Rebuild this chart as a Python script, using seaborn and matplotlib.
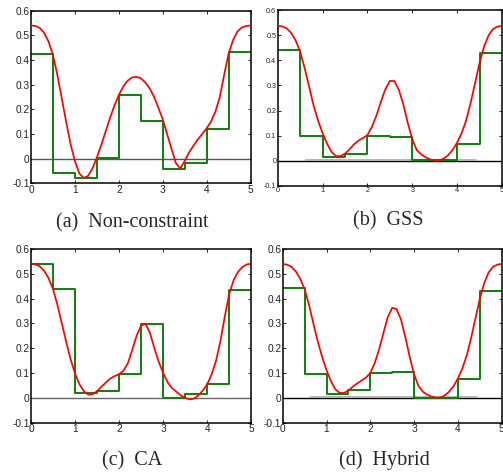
import numpy as np
import pandas as pd
import matplotlib
matplotlib.use("Agg")
import matplotlib.pyplot as plt
import seaborn as sns

# ---------------- data ----------------
step_edges = [0, 0.5, 1.0, 1.5, 2.0, 2.5, 3.0, 3.5, 4.0, 4.5, 5.0]

steps_a = [0.424, -0.058, -0.080, 0.004, 0.258, 0.154, -0.042, -0.016, 0.122, 0.432]
steps_b = [0.441, 0.098, 0.013, 0.028, 0.100, 0.095, 0.001, 0.001, 0.068, 0.430]
steps_c = [0.539, 0.438, 0.020, 0.027, 0.095, 0.298, 0.000, 0.016, 0.054, 0.434]
steps_d = [0.441, 0.097, 0.016, 0.031, 0.099, 0.105, 0.000, 0.000, 0.078, 0.432]

x_curve = np.round(np.arange(0, 5.01, 0.1), 1)

curve_a = [0.540, 0.538, 0.530, 0.510, 0.475, 0.420, 0.340, 0.245, 0.150, 0.060,
           -0.010, -0.060, -0.078, -0.070, -0.040, 0.005, 0.055, 0.110, 0.165, 0.215,
           0.258, 0.292, 0.316, 0.329, 0.332, 0.326, 0.310, 0.286, 0.252, 0.207,
           0.160, 0.100, 0.040, -0.018, -0.040, -0.010, 0.025, 0.052, 0.078, 0.100,
           0.123, 0.150, 0.190, 0.250, 0.340, 0.425, 0.480, 0.515, 0.532, 0.538, 0.540]

curve_b = [0.538, 0.536, 0.528, 0.510, 0.480, 0.435, 0.370, 0.295, 0.220, 0.160,
           0.110, 0.068, 0.035, 0.018, 0.018, 0.028, 0.045, 0.065, 0.080, 0.090,
           0.102, 0.135, 0.180, 0.235, 0.285, 0.318, 0.318, 0.283, 0.225, 0.150,
           0.085, 0.042, 0.025, 0.013, 0.005, 0.001, 0.001, 0.008, 0.022, 0.043,
           0.072, 0.110, 0.160, 0.230, 0.310, 0.390, 0.455, 0.500, 0.525, 0.535, 0.538]

curve_c = [0.541, 0.538, 0.530, 0.512, 0.482, 0.438, 0.375, 0.300, 0.225, 0.155,
           0.098, 0.055, 0.027, 0.013, 0.015, 0.027, 0.045, 0.062, 0.078, 0.088,
           0.095, 0.110, 0.140, 0.195, 0.252, 0.292, 0.298, 0.262, 0.200, 0.145,
           0.100, 0.063, 0.040, 0.025, 0.010, 0.000, -0.006, -0.003, 0.010, 0.030,
           0.055, 0.095, 0.150, 0.230, 0.330, 0.420, 0.475, 0.508, 0.528, 0.538, 0.541]

curve_d = [0.540, 0.537, 0.528, 0.510, 0.480, 0.438, 0.375, 0.300, 0.228, 0.165,
           0.112, 0.068, 0.035, 0.020, 0.020, 0.030, 0.045, 0.058, 0.070, 0.082,
           0.100, 0.140, 0.195, 0.262, 0.326, 0.363, 0.358, 0.316, 0.245, 0.165,
           0.095, 0.048, 0.025, 0.013, 0.005, 0.001, 0.002, 0.010, 0.025, 0.047,
           0.078, 0.118, 0.170, 0.240, 0.320, 0.400, 0.462, 0.505, 0.528, 0.537, 0.540]

# light grey baseline segment seen in (b) and (d)
grey_seg_x = [0.63, 4.43]
grey_seg_y = [0.003, 0.003]

captions = ["(a)  Non-constraint", "(b)  GSS", "(c)  CA", "(d)  Hybrid"]
x_ticks = [0, 1, 2, 3, 4, 5]
y_ticks = [-0.1, 0, 0.1, 0.2, 0.3, 0.4, 0.5, 0.6]
y_ticklabels = ["-0.1", "0", "0.1", "0.2", "0.3", "0.4", "0.5", "0.6"]

# ---------------- figure ----------------
sns.set_style("ticks")
plt.rcParams["font.family"] = ["Liberation Sans", "DejaVu Sans"]

W, H = 503, 475
fig = plt.figure(figsize=(W / 100, H / 100), dpi=100)

def ax_rect(l, t, r, b):
    return [l / W, 1 - b / H, (r - l) / W, (b - t) / H]

panels = [
    dict(rect=ax_rect(31, 10.7, 250.5, 183.3), steps=steps_a, curve=curve_a,
         tick_fs=7.3, zero_color="#555555", grey=False, cap_xy=(132, 227)),
    dict(rect=ax_rect(277.7, 10.3, 502, 185.7), steps=steps_b, curve=curve_b,
         tick_fs=5.2, zero_color="#000000", grey=True, cap_xy=(388, 225)),
    dict(rect=ax_rect(31, 249, 251.3, 422.7), steps=steps_c, curve=curve_c,
         tick_fs=7.3, zero_color="#666666", grey=False, cap_xy=(132, 465)),
    dict(rect=ax_rect(282.7, 249, 501.7, 422.7), steps=steps_d, curve=curve_d,
         tick_fs=7.3, zero_color="#000000", grey=True, cap_xy=(384, 465)),
]

for p, cap in zip(panels, captions):
    ax = fig.add_axes(p["rect"])
    ax.axhline(0, color=p["zero_color"], lw=1.0, zorder=1)
    if p["grey"]:
        ax.plot(grey_seg_x, grey_seg_y, color="#b0b0b0", lw=1.3, zorder=1.5)
    df_s = pd.DataFrame({"x": step_edges, "y": list(p["steps"]) + [p["steps"][-1]]})
    sns.lineplot(data=df_s, x="x", y="y", ax=ax, drawstyle="steps-post",
                 color="#0c7f0c", lw=1.4, zorder=2, estimator=None, sort=False)
    df_c = pd.DataFrame({"x": x_curve, "y": p["curve"]})
    sns.lineplot(data=df_c, x="x", y="y", ax=ax, color="#ff0000", lw=1.25,
                 zorder=3, estimator=None, sort=False)

    ax.set_xlim(0, 5)
    ax.set_ylim(-0.1, 0.6)
    ax.set_xticks(x_ticks)
    ax.set_xticklabels([str(t) for t in x_ticks])
    ax.set_yticks(y_ticks)
    ax.set_yticklabels(y_ticklabels)
    ax.set_xlabel("")
    ax.set_ylabel("")
    ax.tick_params(direction="in", length=2.2, width=0.7, top=True, right=True,
                   labelsize=p["tick_fs"], colors="#222222", pad=1.0)
    for s in ax.spines.values():
        s.set_linewidth(1.1)
        s.set_color("black")
        s.set_visible(True)

    fig.text(p["cap_xy"][0] / W, 1 - p["cap_xy"][1] / H, cap, ha="center",
             va="baseline", fontsize=14.5, family=["Liberation Serif", "DejaVu Serif"])

fig.savefig("out.png", dpi=100)
